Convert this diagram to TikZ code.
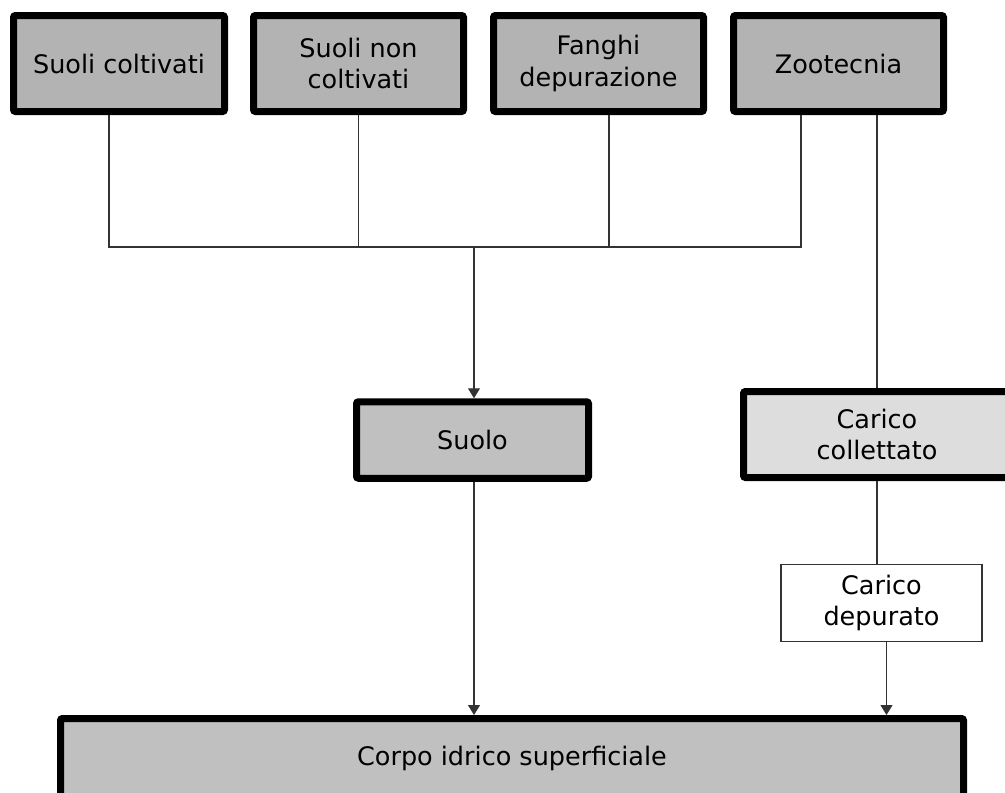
\documentclass[tikz,border=0pt]{standalone}
\usepackage{fontspec}
\setmainfont{DejaVu Sans}
\usetikzlibrary{arrows.meta,calc}
\definecolor{topfill}{HTML}{B3B3B3}
\definecolor{midfill}{HTML}{C0C0C0}
\definecolor{lightfill}{HTML}{DDDDDD}
\definecolor{linegray}{HTML}{333333}
\begin{document}
\begin{tikzpicture}[x=1pt,y=-1pt,
  font=\fontsize{25.5}{31.5}\selectfont,
  thickbox/.style={draw=black, line width=7pt, rounded corners=2pt, align=center,
    inner sep=0pt, outer sep=3.5pt},
  thinbox/.style={draw=linegray, line width=1.2pt, fill=white, align=center,
    inner sep=0pt, outer sep=0.6pt},
  conn/.style={draw=linegray, line width=1.2pt},
  arr/.style={-{Triangle[length=10pt,width=12pt]}}
]
\useasboundingbox (0,0) rectangle (1005,793);
\clip (0,0) rectangle (1005,793);

% top boxes
\node[thickbox, fill=topfill, minimum width=211pt, minimum height=96pt] (b1) at (119,63.5) {Suoli coltivati};
\node[thickbox, fill=topfill, minimum width=210pt, minimum height=96pt] (b2) at (358.5,63.5) {Suoli non\\coltivati};
\node[thickbox, fill=topfill, minimum width=210pt, minimum height=96pt] (b3) at (598.5,63.5) {Fanghi\\depurazione};
\node[thickbox, fill=topfill, minimum width=210pt, minimum height=96pt] (b4) at (838.5,63.5) {Zootecnia};

% middle boxes
\node[thickbox, fill=midfill, minimum width=232pt, minimum height=76.5pt] (suolo) at (472.5,440) {Suolo};
\node[thickbox, fill=lightfill, minimum width=267pt, minimum height=86pt] (coll) at (877,434.5) {Carico\\collettato};
\node[thinbox, minimum width=201pt, minimum height=77pt] (dep) at (881.5,603) {Carico\\depurato};

% bottom box
\node[thickbox, fill=midfill, minimum width=903pt, minimum height=80pt] (corpo) at (512,758.5) {Corpo idrico superficiale};

% bus
\coordinate (bus) at (0,247);
\draw[conn] ([xshift=-10pt]b1.south) -- ([xshift=-10pt]b1.south |- bus)
  -- ([xshift=-37.5pt]b4.south |- bus) -- ([xshift=-37.5pt]b4.south);
\draw[conn] (b2.south) -- (b2.south |- bus);
\draw[conn] ([xshift=10.5pt]b3.south) -- ([xshift=10.5pt]b3.south |- bus);
\draw[conn, arr] ([xshift=1.5pt]suolo.north |- bus) -- ([xshift=1.5pt]suolo.north);

% right branch
\draw[conn] ([xshift=38.5pt]b4.south) -- (coll.north);
\draw[conn] (coll.south) -- (dep.north -| coll.south);
\draw[conn, arr] ([xshift=5pt]dep.south) -- ([xshift=5pt]dep.south |- corpo.north);

% left branch to corpo
\draw[conn, arr] ([xshift=1.5pt]suolo.south) -- ([xshift=1.5pt]suolo.south |- corpo.north);
\end{tikzpicture}
\end{document}
